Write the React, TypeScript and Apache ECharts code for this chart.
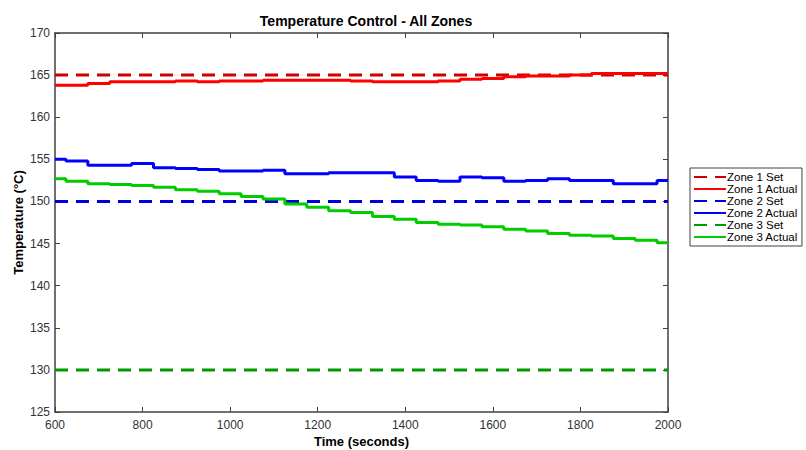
import React, { useEffect, useRef } from "react";
import * as echarts from "echarts";

const times = [600, 650, 700, 750, 800, 850, 900, 950, 1000, 1050, 1100, 1150, 1200, 1250, 1300, 1350, 1400, 1450, 1500, 1550, 1600, 1650, 1700, 1750, 1800, 1850, 1900, 1950, 2000];
const zone1Actual = [163.8, 163.8, 164.0, 164.2, 164.2, 164.2, 164.3, 164.2, 164.3, 164.3, 164.4, 164.4, 164.4, 164.4, 164.3, 164.2, 164.2, 164.2, 164.3, 164.5, 164.6, 164.8, 164.9, 164.9, 165.0, 165.2, 165.2, 165.2, 165.2];
const zone2Actual = [155.0, 154.8, 154.3, 154.3, 154.5, 154.0, 153.9, 153.8, 153.6, 153.6, 153.7, 153.3, 153.3, 153.4, 153.4, 153.4, 152.9, 152.5, 152.4, 152.9, 152.8, 152.4, 152.5, 152.7, 152.5, 152.5, 152.1, 152.1, 152.5];
const zone3Actual = [152.7, 152.4, 152.1, 152.0, 151.9, 151.7, 151.4, 151.2, 150.9, 150.6, 150.3, 149.7, 149.3, 148.9, 148.7, 148.2, 147.9, 147.5, 147.3, 147.2, 147.0, 146.7, 146.5, 146.2, 146.0, 145.9, 145.6, 145.4, 145.1];
const setpoints = [165, 150, 130];
const seriesNames = ["Zone 1 Set", "Zone 1 Actual", "Zone 2 Set", "Zone 2 Actual", "Zone 3 Set", "Zone 3 Actual"];
const setColors = ["#d00000", "#0000dd", "#009a00"];
const actualColors = ["#ff0000", "#0000ff", "#00cc00"];

export default function App() {
  const ref = useRef<HTMLDivElement>(null);
  useEffect(() => {
    if (!ref.current) return;
    const chart = echarts.init(ref.current, null, { renderer: "svg" });
    const actuals = [zone1Actual, zone2Actual, zone3Actual];
    const series: any[] = [];
    for (let i = 0; i < 3; i++) {
      series.push({
        name: seriesNames[i * 2],
        type: "line",
        symbol: "none",
        data: [[times[0], setpoints[i]], [times[times.length - 1], setpoints[i]]],
        lineStyle: { color: setColors[i], width: 3, type: [13, 8] },
        itemStyle: { color: setColors[i] },
      });
      series.push({
        name: seriesNames[i * 2 + 1],
        type: "line",
        symbol: "none",
        step: "middle",
        data: times.map((t, k) => [t, actuals[i][k]]),
        lineStyle: { color: actualColors[i], width: 3 },
        itemStyle: { color: actualColors[i] },
      });
    }
    const axisColor = "#404040";
    const labelColor = "#333333";
    const font = "'Liberation Sans', Arial, sans-serif";
    const plain = (v: number) => String(v);
    chart.setOption({
      animation: false,
      backgroundColor: "#ffffff",
      title: {
        text: "Temperature Control - All Zones",
        left: 361,
        textAlign: "center",
        top: 9,
        textStyle: { fontFamily: font, fontSize: 14, fontWeight: "bold", color: "#000" },
      },
      legend: {
        orient: "vertical",
        left: 690,
        top: 168,
        data: seriesNames,
        itemWidth: 32,
        itemHeight: 12,
        itemGap: 0,
        padding: [3, 4, 3, 3],
        borderColor: axisColor,
        borderWidth: 1,
        backgroundColor: "#fff",
        itemStyle: { opacity: 0 },
        textStyle: { fontFamily: font, fontSize: 11.5, color: "#000", lineHeight: 12, padding: [0, 0, 0, -4] },
      },
      grid: { left: 55, right: 138, top: 33, bottom: 38, containLabel: false, outerBoundsMode: "none" },
      xAxis: [
        {
          type: "value",
          min: 600,
          max: 2000,
          interval: 200,
          name: "Time (seconds)",
          nameLocation: "middle",
          nameGap: 23,
          nameMoveOverlap: false,
          nameTextStyle: { fontFamily: font, fontSize: 13, fontWeight: "bold", color: "#000" },
          axisLine: { show: true, lineStyle: { color: axisColor, width: 1.5 } },
          axisTick: { show: true, inside: true, length: 5, lineStyle: { color: axisColor } },
          axisLabel: { fontFamily: font, fontSize: 12, color: labelColor, margin: 7, formatter: plain },
          splitLine: { show: false },
        },
        {
          type: "value",
          position: "top",
          min: 600,
          max: 2000,
          interval: 200,
          axisLine: { show: true, lineStyle: { color: axisColor, width: 1.5 } },
          axisTick: { show: true, inside: true, length: 5, lineStyle: { color: axisColor } },
          axisLabel: { show: false },
          splitLine: { show: false },
        },
      ],
      yAxis: [
        {
          type: "value",
          min: 125,
          max: 170,
          interval: 5,
          name: "Temperature (°C)",
          nameLocation: "middle",
          nameGap: 30,
          nameMoveOverlap: false,
          nameTextStyle: { fontFamily: font, fontSize: 13, fontWeight: "bold", color: "#000" },
          axisLine: { show: true, lineStyle: { color: axisColor, width: 1.5 } },
          axisTick: { show: true, inside: true, length: 5, lineStyle: { color: axisColor } },
          axisLabel: { fontFamily: font, fontSize: 12, color: labelColor, margin: 5, formatter: plain },
          splitLine: { show: false },
        },
        {
          type: "value",
          position: "right",
          min: 125,
          max: 170,
          interval: 5,
          axisLine: { show: true, lineStyle: { color: axisColor, width: 1.5 } },
          axisTick: { show: true, inside: true, length: 5, lineStyle: { color: axisColor } },
          axisLabel: { show: false },
          splitLine: { show: false },
        },
      ],
      series,
    });
    return () => chart.dispose();
  }, []);
  return <div ref={ref} style={{ width: 806, height: 450, position: "absolute", left: 0, top: 0 }} />;
}
